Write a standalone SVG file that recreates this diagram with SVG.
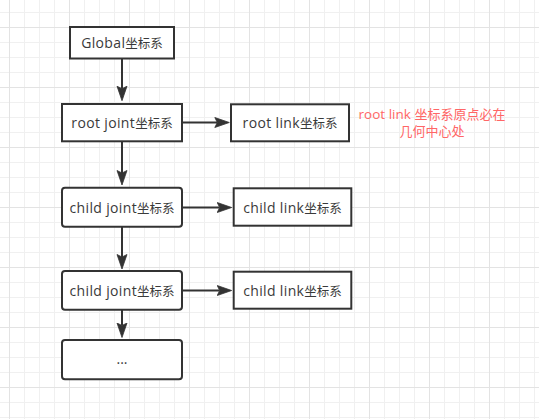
<svg xmlns="http://www.w3.org/2000/svg" width="539" height="419" viewBox="0 0 539 419">
  <style>
    .box { fill: #ffffff; stroke: #333333; stroke-width: 2; }
    .lbl { font-family: "Open Sans", "Noto Sans CJK SC", sans-serif; font-size: 14px; fill: #3a3a3a; text-anchor: middle; }
    .lat { letter-spacing: 0.35px; }
    .cjk { font-family: "Noto Sans CJK SC", sans-serif; font-size: 12.5px; }
    .note { font-family: "Open Sans", "Noto Sans CJK SC", sans-serif; font-size: 13.5px; fill: #ff6666; text-anchor: middle; }
    .note .cjk { font-size: 13px; }
    .edge { fill: none; stroke: #333333; stroke-width: 2; marker-end: url(#arrow); }
  </style>
  <defs>
    <pattern id="gridS" patternUnits="userSpaceOnUse" x="9" y="12" width="15" height="15">
      <rect x="0" y="0" width="1" height="15" fill="#f0f0f0"/>
      <rect x="0" y="0" width="15" height="1" fill="#f0f0f0"/>
    </pattern>
    <pattern id="gridL" patternUnits="userSpaceOnUse" x="9" y="27" width="60" height="60">
      <rect x="0" y="0" width="1" height="60" fill="#e3e3e3"/>
      <rect x="0" y="0" width="60" height="1" fill="#e3e3e3"/>
    </pattern>
    <marker id="arrow" markerUnits="userSpaceOnUse" viewBox="-15 -6 16 12" markerWidth="16" markerHeight="12" refX="-12" refY="0" orient="auto">
      <path d="M0,0 L-14.5,-5 L-12,0 L-14.5,5 Z" fill="#333333" stroke="#333333" stroke-width="0.8" stroke-linejoin="miter"/>
    </marker>
  </defs>

  <rect x="0" y="0" width="539" height="419" fill="#ffffff"/>
  <rect x="0" y="0" width="539" height="419" fill="url(#gridS)"/>
  <rect x="0" y="0" width="539" height="419" fill="url(#gridL)"/>

  <g id="connectors">
    <path class="edge" d="M122,58.5 L122,88.7"/>
    <path class="edge" d="M182,122.5 L217.3,122.5"/>
    <path class="edge" d="M122,141.3 L122,173"/>
    <path class="edge" d="M182,207.5 L219.7,207.5"/>
    <path class="edge" d="M122,226.7 L122,257"/>
    <path class="edge" d="M182,290.5 L219.7,290.5"/>
    <path class="edge" d="M122,309.7 L122,325.5"/>
  </g>

  <g id="global">
    <rect class="box" x="70" y="27" width="104" height="31.5"/>
    <text class="lbl" x="122" y="48"><tspan class="lat">Global</tspan><tspan class="cjk">坐标系</tspan></text>
  </g>

  <g id="root_joint">
    <rect class="box" x="62" y="104" width="120" height="37.3"/>
    <text class="lbl" x="122" y="128"><tspan class="lat">root joint</tspan><tspan class="cjk">坐标系</tspan></text>
  </g>

  <g id="root_link">
    <rect class="box" x="231" y="104.3" width="118" height="37"/>
    <text class="lbl" x="290" y="128"><tspan class="lat">root link</tspan><tspan class="cjk">坐标系</tspan></text>
  </g>

  <g id="note">
    <text class="note" x="432" y="118.5"><tspan>root link </tspan><tspan class="cjk">坐标系原点必在</tspan></text>
    <text class="note" x="432" y="135.5"><tspan class="cjk">几何中心处</tspan></text>
  </g>

  <g id="child_joint_1">
    <rect class="box" x="62" y="187.7" width="120" height="39" rx="3" ry="3"/>
    <text class="lbl" x="122" y="212.7"><tspan class="lat">child joint</tspan><tspan class="cjk">坐标系</tspan></text>
  </g>

  <g id="child_link_1">
    <rect class="box" x="233.7" y="188.3" width="117.6" height="37.4"/>
    <text class="lbl" x="292.5" y="212.5"><tspan class="lat">child link</tspan><tspan class="cjk">坐标系</tspan></text>
  </g>

  <g id="child_joint_2">
    <rect class="box" x="62" y="271" width="120" height="38.7" rx="3" ry="3"/>
    <text class="lbl" x="122" y="295.8"><tspan class="lat">child joint</tspan><tspan class="cjk">坐标系</tspan></text>
  </g>

  <g id="child_link_2">
    <rect class="box" x="233.7" y="271.7" width="117.6" height="37"/>
    <text class="lbl" x="292.5" y="295.7"><tspan class="lat">child link</tspan><tspan class="cjk">坐标系</tspan></text>
  </g>

  <g id="ellipsis">
    <rect class="box" x="62" y="340" width="120" height="39.3" rx="3" ry="3"/>
    <text class="lbl" x="122" y="364">...</text>
  </g>
</svg>
